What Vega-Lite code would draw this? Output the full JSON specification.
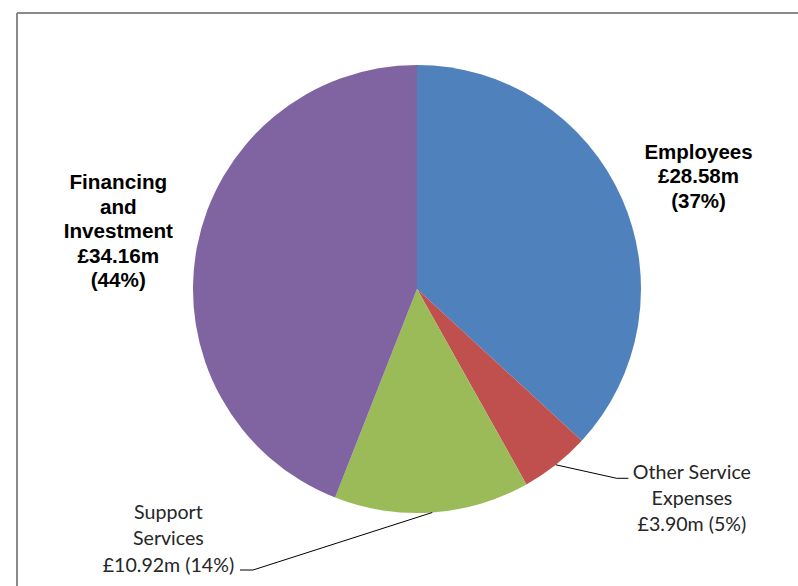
{
  "$schema": "https://vega.github.io/schema/vega-lite/v6.json",
  "width": 781,
  "height": 573,
  "autosize": {"type": "none"},
  "padding": {"left": 17, "top": 13, "right": 0, "bottom": 0},
  "background": "white",
  "config": {"view": {"stroke": null}},
  "data": {
    "values": [
      {"category": "Employees", "value": 28.58, "label": "Employees\n£28.58m\n(37%)"},
      {"category": "Other Service Expenses", "value": 3.90, "label": "Other Service\nExpenses\n£3.90m (5%)"},
      {"category": "Support Services", "value": 10.92, "label": "Support\nServices\n£10.92m (14%)"},
      {"category": "Financing and Investment", "value": 34.16, "label": "Financing\nand\nInvestment\n£34.16m\n(44%)"}
    ]
  },
  "transform": [{"window": [{"op": "row_number", "as": "idx"}]}],
  "encoding": {
    "x": {"datum": 0, "type": "quantitative", "scale": {"domain": [-1.785714, 1.700893], "nice": false, "zero": false}, "axis": null},
    "y": {"datum": 0, "type": "quantitative", "scale": {"domain": [-1.325893, 1.232143], "nice": false, "zero": false}, "axis": null},
    "theta": {"field": "value", "type": "quantitative", "stack": true},
    "order": {"field": "idx", "type": "quantitative"}
  },
  "layer": [
    {
      "mark": {"type": "arc", "outerRadius": 224},
      "encoding": {
        "color": {
          "field": "category",
          "type": "nominal",
          "scale": {
            "domain": ["Employees", "Other Service Expenses", "Support Services", "Financing and Investment"],
            "range": ["#4F81BD", "#C0504D", "#9BBB59", "#8064A2"]
          },
          "legend": null
        }
      }
    },
    {
      "mark": {"type": "text", "radius": 303, "dx": 4, "dy": -14.5, "font": "Liberation Sans", "fontWeight": "bold", "fontSize": 20.5, "lineHeight": 24.5, "lineBreak": "\n", "align": "center", "baseline": "middle", "color": "#000000"},
      "encoding": {"text": {"condition": {"test": "datum.category === 'Employees'", "field": "label"}, "value": ""}}
    },
    {
      "mark": {"type": "text", "radius": 304, "dx": 0, "dy": -49, "font": "Liberation Sans", "fontWeight": "bold", "fontSize": 20.7, "lineHeight": 24.4, "lineBreak": "\n", "align": "center", "baseline": "middle", "color": "#000000"},
      "encoding": {"text": {"condition": {"test": "datum.category === 'Financing and Investment'", "field": "label"}, "value": ""}}
    },
    {
      "mark": {"type": "text", "radius": 300, "dx": 89, "dy": -51, "font": "Lato", "fontSize": 19.6, "lineHeight": 26, "lineBreak": "\n", "align": "center", "baseline": "middle", "color": "#262626"},
      "encoding": {"text": {"condition": {"test": "datum.category === 'Other Service Expenses'", "field": "label"}, "value": ""}}
    },
    {
      "mark": {"type": "text", "radius": 300, "dx": -269, "dy": -75.5, "font": "Lato", "fontSize": 19.6, "lineHeight": 26.5, "lineBreak": "\n", "align": "center", "baseline": "middle", "color": "#262626"},
      "encoding": {"text": {"condition": {"test": "datum.category === 'Support Services'", "field": "label"}, "value": ""}}
    },
    {
      "data": {"values": [{}]},
      "mark": {"type": "rule", "color": "#000000", "strokeWidth": 1},
      "encoding": {
        "theta": null, "order": null,
        "x": {"datum": 0.6197, "type": "quantitative"},
        "y": {"datum": -0.7848, "type": "quantitative"},
        "x2": {"datum": 0.8915},
        "y2": {"datum": -0.8451}
      }
    },
    {
      "data": {"values": [{}]},
      "mark": {"type": "rule", "color": "#000000", "strokeWidth": 1},
      "encoding": {
        "theta": null, "order": null,
        "x": {"datum": 0.8915, "type": "quantitative"},
        "y": {"datum": -0.8451, "type": "quantitative"},
        "x2": {"datum": 0.9435},
        "y2": {"datum": -0.8451}
      }
    },
    {
      "data": {"values": [{}]},
      "mark": {"type": "rule", "color": "#000000", "strokeWidth": 1},
      "encoding": {
        "theta": null, "order": null,
        "x": {"datum": 0.0684, "type": "quantitative"},
        "y": {"datum": -0.9977, "type": "quantitative"},
        "x2": {"datum": -0.7321},
        "y2": {"datum": -1.2545}
      }
    },
    {
      "data": {"values": [{}]},
      "mark": {"type": "rule", "color": "#000000", "strokeWidth": 1},
      "encoding": {
        "theta": null, "order": null,
        "x": {"datum": -0.7321, "type": "quantitative"},
        "y": {"datum": -1.2545, "type": "quantitative"},
        "x2": {"datum": -0.7902},
        "y2": {"datum": -1.2545}
      }
    },
    {
      "data": {"values": [{}]},
      "mark": {"type": "rule", "color": "#8A8A8A", "strokeWidth": 2},
      "encoding": {
        "theta": null, "order": null,
        "x": {"datum": -1.785714, "type": "quantitative"},
        "y": {"datum": 1.232143, "type": "quantitative"},
        "y2": {"datum": -1.325893}
      }
    },
    {
      "data": {"values": [{}]},
      "mark": {"type": "rule", "color": "#8A8A8A", "strokeWidth": 2},
      "encoding": {
        "theta": null, "order": null,
        "x": {"datum": -1.785714, "type": "quantitative"},
        "x2": {"datum": 1.700893},
        "y": {"datum": 1.232143, "type": "quantitative"}
      }
    }
  ]
}
